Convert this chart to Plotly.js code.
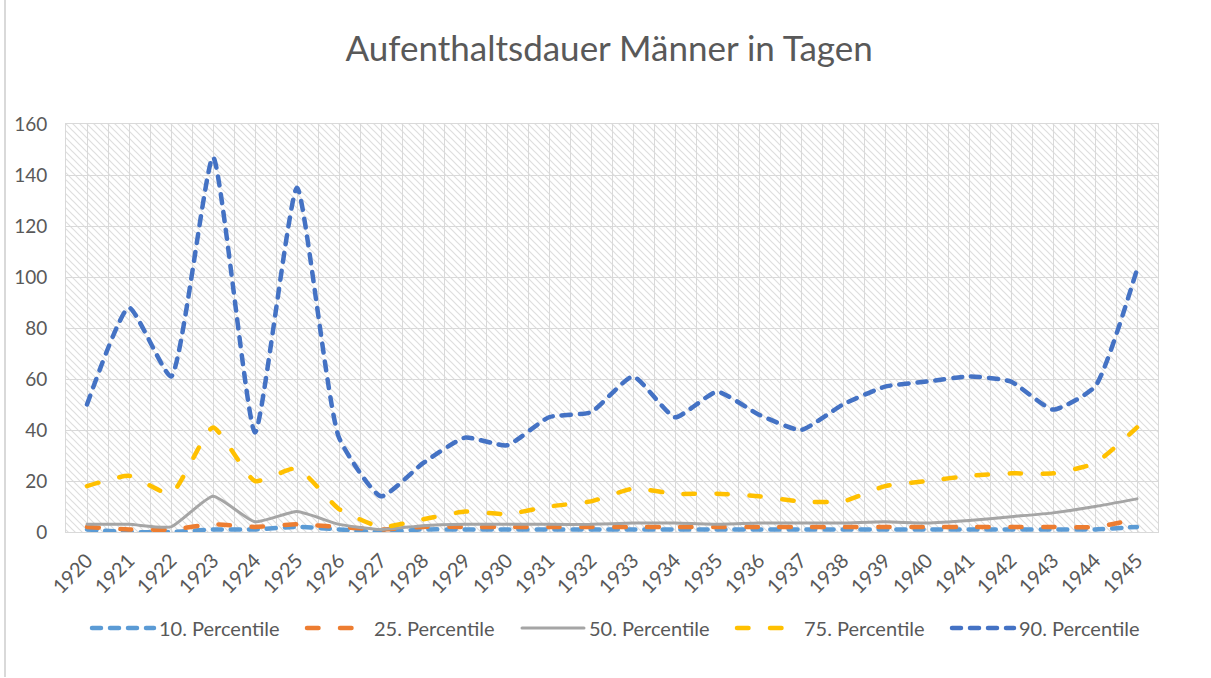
<!DOCTYPE html>
<html>
<head>
<meta charset="utf-8">
<script src="https://cdn.plot.ly/plotly-3.0.1.min.js"></script>
<style>
  html, body { margin: 0; padding: 0; background: #ffffff; }
  #frame { position: absolute; left: 4px; top: -2px; width: 1300px; height: 679px; border-left: 2px solid #d9d9d9; }
  #chart { position: absolute; left: 0; top: 0; width: 1211px; height: 678px; }
  .js-line { stroke-linecap: round; }
</style>
</head>
<body>
<div id="frame"></div>
<div id="chart"></div>
<script>
const years = [1920,1921,1922,1923,1924,1925,1926,1927,1928,1929,1930,1931,1932,1933,1934,1935,1936,1937,1938,1939,1940,1941,1942,1943,1944,1945];
const seriesNames = ["10. Percentile","25. Percentile","50. Percentile","75. Percentile","90. Percentile"];
const p10 = [1,0,0,1,1,2,1,0,1,1,1,1,1,1,1,1,1,1,1,1,1,1,1,1,1,2];
const p25 = [2,1,1,3,2,3,2,1,2,2,2,2,2,2,2,2,2,2,2,2,2,2,2,2,2,5];
const p50 = [3,3,2,14,4,8,3,1,2.5,3,3,3,3,3.5,3.5,3,3.5,3.5,3.5,4,3.5,4.5,6,7.5,10,13];
const p75 = [18,22,15,41,20,25,9,2,5,8,7,10,12,17,15,15,14,12,12,18,20,22,23,23,27,41];
const p90 = [50,88,61,147,39,135,37,14,27,37,34,45,47,61,45,55,46,40,50,57,59,61,59,48,57,103];
const titleText = "Aufenthaltsdauer Männer in Tagen";

const values = [p10, p25, p50, p75, p90];
const colors = ["#5B9BD5","#ED7D31","#A5A5A5","#FFC000","#4472C4"];
const dashes = ["9px,9px","11.5px,21.5px","solid","11.5px,21.5px","9px,9px"];
const widths = [4.5, 4.5, 3, 4.5, 4.5];

const traces = values.map((v, i) => ({
  type: "scatter",
  mode: "lines",
  x: years,
  y: v,
  name: seriesNames[i],
  line: { color: colors[i], width: widths[i], dash: dashes[i], shape: "spline", smoothing: 0.5 },
  hoverinfo: "x+y+name"
}));

const hatchSvg = "<svg xmlns='http://www.w3.org/2000/svg' width='1092' height='408'>" +
  "<defs><pattern id='p' width='7' height='7' patternUnits='userSpaceOnUse'>" +
  "<path d='M0,0 L7,7 M-3.5,3.5 L3.5,10.5 M3.5,-3.5 L10.5,3.5' stroke='#dedede' stroke-width='1.2'/>" +
  "</pattern></defs><rect width='100%' height='100%' fill='white'/><rect width='100%' height='100%' fill='url(#p)'/></svg>";
const hatchUri = "data:image/svg+xml;charset=utf-8," + encodeURIComponent(hatchSvg);

const font = "Lato, 'Open Sans', sans-serif";

const layout = {
  width: 1211,
  height: 678,
  margin: { l: 66, r: 53, t: 124, b: 146 },
  paper_bgcolor: "rgba(0,0,0,0)",
  plot_bgcolor: "#ffffff",
  font: { family: font, color: "#595959", size: 18 },
  title: {
    text: titleText,
    font: { family: font, size: 35, color: "#595959" },
    x: 0.503, xanchor: "center",
    y: 1 - 49/678, yanchor: "middle", yref: "container"
  },
  xaxis: {
    type: "linear",
    range: [1919.5, 1945.5],
    tickmode: "linear", tick0: 1920, dtick: 1,
    tickangle: -45,
    ticks: "",
    ticklabelstandoff: 8,
    showgrid: true, gridcolor: "#d9d9d9", gridwidth: 1,
    minor: { tickmode: "linear", tick0: 1919.5, dtick: 1, showgrid: true, gridcolor: "#d9d9d9", gridwidth: 1, ticks: "" },
    showline: true, linecolor: "#d9d9d9", linewidth: 1, mirror: true,
    zeroline: false,
    tickfont: { family: font, size: 20, color: "#595959" },
    fixedrange: true
  },
  yaxis: {
    range: [0, 160],
    tick0: 0, dtick: 20,
    ticks: "",
    ticklabelstandoff: 14,
    showgrid: true, gridcolor: "#d9d9d9", gridwidth: 1,
    showline: true, linecolor: "#d9d9d9", linewidth: 1, mirror: true,
    zeroline: false,
    tickfont: { family: font, size: 19, color: "#595959" },
    fixedrange: true
  },
  images: [{
    source: hatchUri,
    xref: "paper", yref: "paper",
    x: 0, y: 1, sizex: 1, sizey: 1,
    xanchor: "left", yanchor: "top",
    sizing: "stretch", layer: "below"
  }],
  legend: {
    orientation: "h",
    xref: "container", yref: "container",
    x: 87/1211, xanchor: "left",
    y: 1 - 628/678, yanchor: "middle",
    itemwidth: 62,
    entrywidth: 138,
    entrywidthmode: "pixels",
    font: { family: font, size: 20, color: "#595959" },
    bgcolor: "rgba(0,0,0,0)",
    traceorder: "normal"
  },
  showlegend: true
};

Plotly.newPlot("chart", traces, layout, { displayModeBar: false, staticPlot: true });
</script>
</body>
</html>
